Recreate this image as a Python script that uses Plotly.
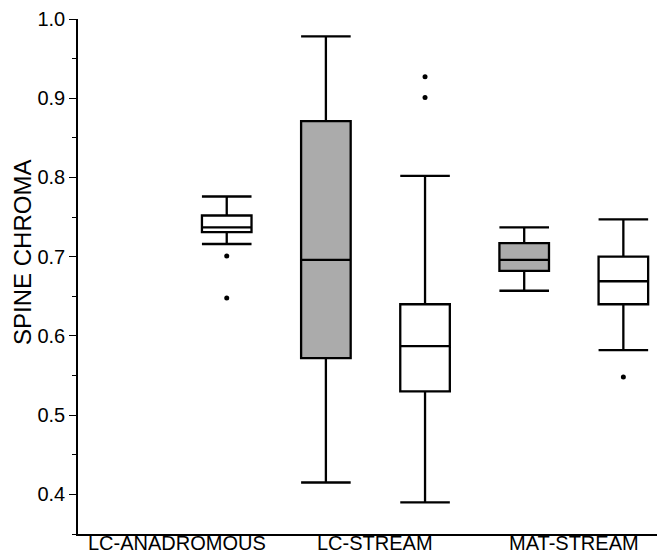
import plotly.graph_objects as go

# Data
categories = ["LC-ANADROMOUS", "LC-STREAM", "MAT-STREAM"]
box_positions = [1, 2, 3, 4, 5]
box_fills = ["white", "#ABABAB", "white", "#ABABAB", "white"]
upper_whisker = [0.776, 0.978, 0.802, 0.737, 0.747]
q3_values = [0.752, 0.871, 0.640, 0.717, 0.700]
median_values = [0.737, 0.696, 0.587, 0.696, 0.669]
q1_values = [0.731, 0.572, 0.530, 0.682, 0.640]
lower_whisker = [0.716, 0.415, 0.390, 0.657, 0.582]
outlier_x = [1, 1, 3, 3, 5]
outlier_y = [0.701, 0.648, 0.927, 0.901, 0.548]
tick_positions = [0.5, 2.5, 4.5]
y_title = "SPINE CHROMA"

fig = go.Figure()
for i in range(len(box_positions)):
    fig.add_trace(go.Box(
        x=[box_positions[i]],
        q1=[q1_values[i]], median=[median_values[i]], q3=[q3_values[i]],
        lowerfence=[lower_whisker[i]], upperfence=[upper_whisker[i]],
        fillcolor=box_fills[i],
        line=dict(color="black", width=2.3),
        width=0.5, whiskerwidth=1,
        boxpoints=False, showlegend=False, hoverinfo="skip",
    ))

fig.add_trace(go.Scatter(
    x=outlier_x, y=outlier_y, mode="markers",
    marker=dict(color="black", size=5), showlegend=False, hoverinfo="skip",
))

fig.add_annotation(
    text=y_title, textangle=-90, xref="paper", yref="y",
    x=-0.095, y=0.705, xanchor="center", yanchor="middle",
    showarrow=False, font=dict(size=24, color="black"),
)

for pos, label in zip(tick_positions, categories):
    fig.add_annotation(
        text=label, xref="x", yref="paper", x=pos, y=0,
        xanchor="center", yanchor="top", yshift=3,
        showarrow=False, borderpad=0, font=dict(size=20, color="black"),
    )

fig.update_layout(
    width=657, height=547,
    margin=dict(l=70, r=0, t=11, b=21),
    paper_bgcolor="white", plot_bgcolor="white",
    font=dict(family="Liberation Sans, Arial, sans-serif", size=20, color="black"),
    xaxis=dict(
        range=[-0.5, 5.42], showgrid=False, zeroline=False,
        showline=True, linecolor="black", linewidth=1.5,
        showticklabels=False, ticks="", automargin=False,
    ),
    yaxis=dict(
        range=[0.35, 1.0], showgrid=False, zeroline=False,
        showline=True, linecolor="black", linewidth=1.5,
        tickmode="linear", tick0=0.4, dtick=0.1, tickformat=".1f",
        ticks="outside", ticklen=7, tickwidth=1.2, tickcolor="black",
        tickfont=dict(size=20),
        minor=dict(dtick=0.05, tick0=0.35, ticks="outside", ticklen=4, tickwidth=1, tickcolor="black"),
        automargin=False,
    ),
)

fig.write_html("out.html")
